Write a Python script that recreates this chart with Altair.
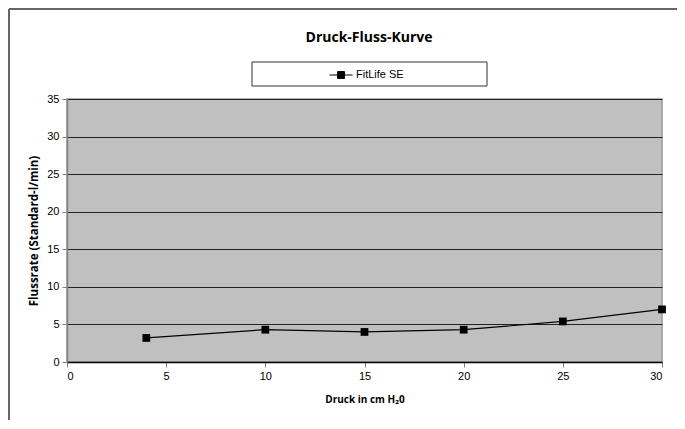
import altair as alt
import pandas as pd

# data
pressure = [4, 10, 15, 20, 25, 30]
flow = [3.2, 4.3, 4.0, 4.3, 5.4, 7.0]
series = ["FitLife SE"] * len(pressure)
x_ticks = [0, 5, 10, 15, 20, 25, 30]
y_ticks = [0, 5, 10, 15, 20, 25, 30, 35]
title_text = ["Druck-Fluss-Kurve"]

df = pd.DataFrame({"Druck": pressure, "Fluss": flow, "Serie": series})
one = pd.DataFrame({"a": [0]})
title_df = pd.DataFrame({"t": title_text})

W, H = 595, 263
PAD_L, PAD_T, PAD_R, PAD_B = 59, 91, 15, 58

LEGEND_SYMBOL = "M-1,0H1M-0.3,-0.3H0.3V0.3H-0.3Z"

x_enc = alt.X(
    "Druck:Q",
    scale=alt.Scale(domain=[0, 30], nice=False, zero=True),
    axis=alt.Axis(
        values=x_ticks, title="Druck in cm H₂0", grid=False,
        domainColor="black", domainWidth=1.5, tickColor="#808080", tickSize=5,
        labelFont="Liberation Sans", labelFontSize=11, labelColor="black",
        labelPadding=3, titleFont="Open Sans", titleFontWeight="bold",
        titleFontSize=10, titleColor="black", titlePadding=13,
    ),
)
y_enc = alt.Y(
    "Fluss:Q",
    scale=alt.Scale(domain=[0, 35], nice=False),
    axis=alt.Axis(
        values=y_ticks, title="Flussrate (Standard-l/min)", grid=True,
        gridColor="#222222", gridWidth=1.2, labelOverlap=False,
        domainColor="#808080", domainWidth=1.5, tickColor="#808080", tickSize=5,
        labelFont="Liberation Sans", labelFontSize=11, labelColor="black",
        labelPadding=3, titleFont="Open Sans", titleFontWeight="bold",
        titleFontSize=11.5, titleColor="black", titlePadding=7,
    ),
)

frame_left = alt.Chart(one).mark_rule(color="#666666", strokeWidth=2).encode(
    x=alt.value(-58), y=alt.value(-90), y2=alt.value(H + PAD_B)
)
frame_top = alt.Chart(one).mark_rule(color="#666666", strokeWidth=2).encode(
    x=alt.value(-58), x2=alt.value(W + PAD_R), y=alt.value(-90)
)
legend_box = alt.Chart(one).mark_rect(fill="white", stroke="#333333", strokeWidth=1).encode(
    x=alt.value(185), x2=alt.value(420), y=alt.value(-37), y2=alt.value(-13)
)
title = alt.Chart(title_df).mark_text(
    font="Open Sans", fontSize=14, fontWeight="bold", color="black",
    align="center", baseline="alphabetic",
).encode(text="t:N", x=alt.value(302), y=alt.value(-57))

line = alt.Chart(df).mark_line(strokeWidth=1.2).encode(
    x=x_enc, y=y_enc,
    color=alt.Color(
        "Serie:N",
        scale=alt.Scale(range=["black"]),
        legend=alt.Legend(
            title=None, orient="none", legendX=262, legendY=-36,
            symbolType=LEGEND_SYMBOL, symbolSize=529, symbolFillColor="black",
            symbolStrokeColor="black", symbolStrokeWidth=1, symbolOpacity=1,
            labelFont="Liberation Sans", labelFontSize=11, labelColor="black",
            labelOffset=3, padding=0,
        ),
    ),
)
points = alt.Chart(df).mark_square(size=60, color="black", opacity=1, filled=True).encode(
    x=x_enc, y=y_enc
)

chart = (
    alt.layer(frame_left, frame_top, legend_box, title, line, points)
    .properties(
        width=W, height=H,
        autosize=alt.AutoSizeParams(type="none"),
        padding={"left": PAD_L, "top": PAD_T, "right": PAD_R, "bottom": PAD_B},
    )
    .configure(background="white")
    .configure_view(fill="#c0c0c0", stroke="#999999", strokeWidth=1.5)
)

chart.save("out.html", embed_options={"renderer": "svg", "actions": False})
